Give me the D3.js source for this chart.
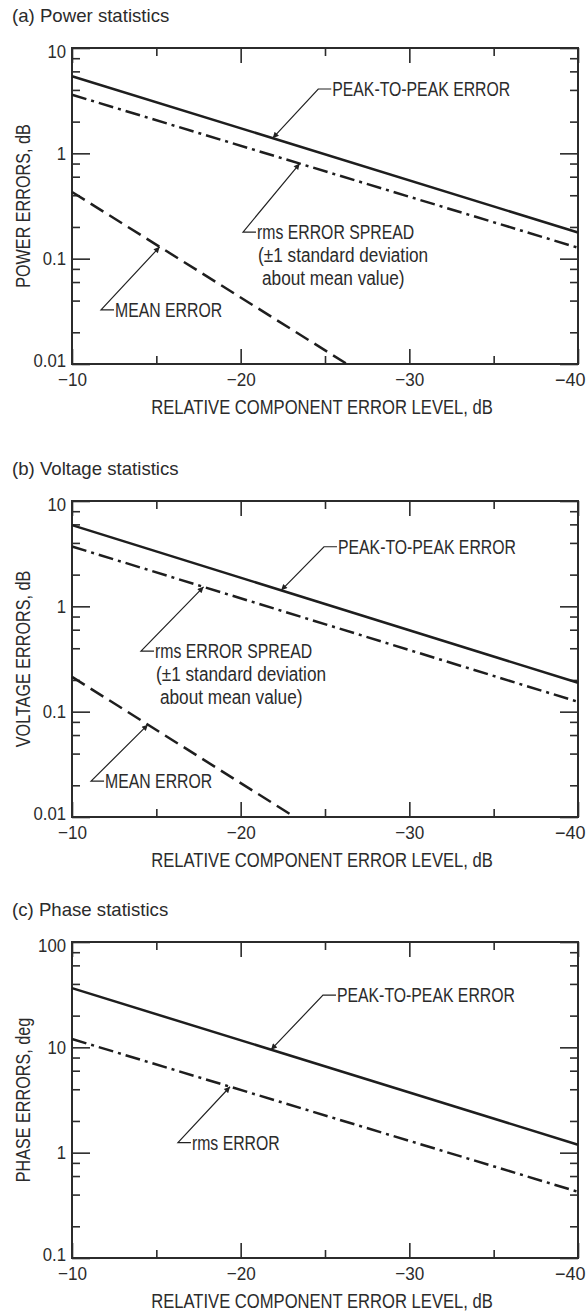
<!DOCTYPE html>
<html>
<head>
<meta charset="utf-8">
<script src="https://cdn.jsdelivr.net/npm/d3@7"></script>
<style>
  body { margin: 0; background: #fff; }
  svg text { font-family: "Liberation Sans", Arial, sans-serif; fill: #2b2b2b; }
</style>
</head>
<body>
<svg id="chart" width="588" height="1316"></svg>
<script>
// relative component error level, dB (x axis)
const xMajor = [-10, -20, -30, -40];
const xMinor = [-15, -25, -35];
const xEnds = [-10, -40];

// (a) power statistics, dB
const powerPeak = [5.4, 0.177];
const powerRms = [3.6, 0.127];
const powerMeanX = [-10, -26.3];
const powerMean = [0.43, 0.01];

// (b) voltage statistics, dB
const voltPeak = [5.9, 0.188];
const voltRms = [3.7, 0.124];
const voltMeanX = [-10, -23.2];
const voltMean = [0.214, 0.01];

// (c) phase statistics, deg
const phasePeak = [36.5, 1.19];
const phaseRms = [12, 0.425];

// y decades per panel
const dbDecades = [0.01, 0.1, 1, 10];
const degDecades = [0.1, 1, 10, 100];

const titles = ["(a) Power statistics", "(b) Voltage statistics", "(c) Phase statistics"];
const yTitles = ["POWER ERRORS, dB", "VOLTAGE ERRORS, dB", "PHASE ERRORS, deg"];
const xTitle = "RELATIVE COMPONENT ERROR LEVEL, dB";

const rmsSpreadText = ["rms ERROR SPREAD", "(\u00b11 standard deviation", "about mean value)"];

const svg = d3.select("#chart");

// the original lettering is a condensed face; squeeze the glyphs horizontally
function squeeze(sel, k) {
  sel.each(function() {
    const len = this.getComputedTextLength();
    d3.select(this).attr("textLength", len * k).attr("lengthAdjust", "spacingAndGlyphs");
  });
}

// arrow head for the leader lines
svg.append("defs").append("marker")
    .attr("id", "arrow")
    .attr("viewBox", "0 0 10 10")
    .attr("refX", 10).attr("refY", 5)
    .attr("markerWidth", 9).attr("markerHeight", 6)
    .attr("markerUnits", "userSpaceOnUse")
    .attr("orient", "auto")
  .append("path")
    .attr("d", "M0,0 L10,5 L0,10 z")
    .attr("fill", "#222");

const panels = [
  {
    top: 48, title: titles[0], yTitle: yTitles[0], decades: dbDecades,
    series: [
      {name: "peak", xs: xEnds, ys: powerPeak, dash: null},
      {name: "rms", xs: xEnds, ys: powerRms, dash: "15,5,3,5"},
      {name: "mean", xs: powerMeanX, ys: powerMean, dash: "15,7"}
    ],
    notes: [
      {series: "peak", tipX: -21.9, elbow: [-24.6, 4.08], lines: ["PEAK-TO-PEAK ERROR"]},
      {series: "rms", tipX: -23.5, elbow: [-20.14, 0.179], lines: rmsSpreadText},
      {series: "mean", tipX: -15.2, elbow: [-11.72, 0.0326], lines: ["MEAN ERROR"]}
    ]
  },
  {
    top: 501, title: titles[1], yTitle: yTitles[1], decades: dbDecades,
    series: [
      {name: "peak", xs: xEnds, ys: voltPeak, dash: null},
      {name: "rms", xs: xEnds, ys: voltRms, dash: "15,5,3,5"},
      {name: "mean", xs: voltMeanX, ys: voltMean, dash: "15,7"}
    ],
    notes: [
      {series: "peak", tipX: -22.4, elbow: [-24.94, 3.68], lines: ["PEAK-TO-PEAK ERROR"]},
      {series: "rms", tipX: -17.8, elbow: [-14.09, 0.376], lines: rmsSpreadText},
      {series: "mean", tipX: -14.5, elbow: [-11.13, 0.0219], lines: ["MEAN ERROR"]}
    ]
  },
  {
    top: 942, title: titles[2], yTitle: yTitles[2], decades: degDecades,
    series: [
      {name: "peak", xs: xEnds, ys: phasePeak, dash: null},
      {name: "rms", xs: xEnds, ys: phaseRms, dash: "15,5,3,5"}
    ],
    notes: [
      {series: "peak", tipX: -21.8, elbow: [-24.88, 31.3], lines: ["PEAK-TO-PEAK ERROR"]},
      {series: "rms", tipX: -19.37, elbow: [-16.28, 1.245], lines: ["rms ERROR"]}
    ]
  }
];

const plotH = 316;
const x = d3.scaleLinear().domain([-10, -40]).range([72, 578]);

function drawPanel(p) {
  const y = d3.scaleLog()
      .domain([p.decades[0], p.decades[p.decades.length - 1]])
      .range([p.top + plotH, p.top]);

  const minorY = [];
  p.decades.slice(0, -1).forEach(d => [2, 4, 6, 8].forEach(m => minorY.push(d * m)));

  const g = svg.append("g");

  g.append("text")
      .attr("x", 12).attr("y", p.top - 26)
      .style("font-size", "19px")
      .text(p.title)
      .call(squeeze, 0.98);

  const fmtX = d => "\u2212" + Math.abs(d);
  const fmtY = d => d3.format("~g")(d);

  // bottom axis
  g.append("g").attr("transform", `translate(0,${p.top + plotH})`)
      .call(d3.axisBottom(x).tickValues(xMajor).tickSize(-15).tickPadding(9).tickFormat(fmtX))
      .call(a => a.selectAll("text").style("font-size", "19px").call(squeeze, 0.9))
      // last label sits at the page edge: keep it inside
      .call(a => a.selectAll("text").filter(d => d === -40)
          .attr("textLength", null).attr("lengthAdjust", null)
          .style("font-size", "18px")
          .attr("text-anchor", "end").attr("x", 7));
  g.append("g").attr("transform", `translate(0,${p.top + plotH})`)
      .call(d3.axisBottom(x).tickValues(xMinor).tickSize(-8).tickFormat(""));
  // top axis
  g.append("g").attr("transform", `translate(0,${p.top})`)
      .call(d3.axisTop(x).tickValues(xMajor).tickSize(-15).tickFormat(""));
  g.append("g").attr("transform", `translate(0,${p.top})`)
      .call(d3.axisTop(x).tickValues(xMinor).tickSize(-8).tickFormat(""));
  // left axis
  const lo = p.decades[0], hi = p.decades[p.decades.length - 1];
  g.append("g").attr("transform", `translate(${x(-10)},0)`)
      .call(d3.axisLeft(y).tickValues(p.decades).tickSize(-18).tickPadding(6).tickFormat(fmtY))
      .call(a => a.selectAll("text").style("font-size", "19px").call(squeeze, 0.88))
      .call(a => a.selectAll("text").attr("dy", d => d === lo ? "0.15em" : d === hi ? "0.5em" : "0.32em"));
  g.append("g").attr("transform", `translate(${x(-10)},0)`)
      .call(d3.axisLeft(y).tickValues(minorY).tickSize(-8).tickFormat(""));
  // right axis
  g.append("g").attr("transform", `translate(${x(-40)},0)`)
      .call(d3.axisRight(y).tickValues(p.decades).tickSize(-18).tickFormat(""));
  g.append("g").attr("transform", `translate(${x(-40)},0)`)
      .call(d3.axisRight(y).tickValues(minorY).tickSize(-8).tickFormat(""));

  g.selectAll(".domain").remove();
  g.selectAll(".tick line").attr("stroke", "#2b2b2b").attr("stroke-width", 1.6);

  g.append("rect")
      .attr("x", x(-10)).attr("y", p.top)
      .attr("width", x(-40) - x(-10)).attr("height", plotH)
      .attr("fill", "none").attr("stroke", "#2b2b2b").attr("stroke-width", 2);

  // axis titles
  g.append("text")
      .attr("x", (x(-10) + x(-40)) / 2 - 3).attr("y", p.top + plotH + 50)
      .attr("text-anchor", "middle")
      .style("font-size", "20px")
      .text(xTitle)
      .call(squeeze, 0.83);
  g.append("text")
      .attr("transform", `translate(30,${p.top + plotH / 2}) rotate(-90)`)
      .attr("text-anchor", "middle")
      .style("font-size", "21px")
      .text(p.yTitle)
      .call(squeeze, 0.77);

  // curves
  const line = d3.line().x(d => x(d[0])).y(d => y(d[1]));
  const byName = {};
  p.series.forEach(s => {
    const pts = s.xs.map((v, i) => [v, s.ys[i]]);
    byName[s.name] = pts;
    g.append("path")
        .datum(pts)
        .attr("d", line)
        .attr("fill", "none")
        .attr("stroke", "#1e1e1e")
        .attr("stroke-width", 2.5)
        .attr("stroke-dasharray", s.dash);
  });

  // leader annotations
  p.notes.forEach(n => {
    const pts = byName[n.series];
    const t = (n.tipX - pts[0][0]) / (pts[1][0] - pts[0][0]);
    const tx = x(n.tipX);
    const ty = y(pts[0][1]) + t * (y(pts[1][1]) - y(pts[0][1]));
    const ex = x(n.elbow[0]), ey = y(n.elbow[1]);
    g.append("path")
        .attr("d", `M${ex + 13},${ey} H${ex} L${tx},${ty}`)
        .attr("fill", "none")
        .attr("stroke", "#222")
        .attr("stroke-width", 1.2)
        .attr("marker-end", "url(#arrow)");
    const txt = g.append("text")
        .attr("x", ex + 14).attr("y", ey + 7)
        .style("font-size", "20px");
    n.lines.forEach((l, i) => {
      txt.append("tspan")
          .attr("x", ex + 14 + (i === 2 ? 5 : i === 1 ? 1 : 0))
          .attr("dy", i === 0 ? 0 : 23)
          .text(l)
          .call(squeeze, i === 0 ? 0.79 : 0.86);
    });
  });
}

panels.forEach(drawPanel);
</script>
</body>
</html>
